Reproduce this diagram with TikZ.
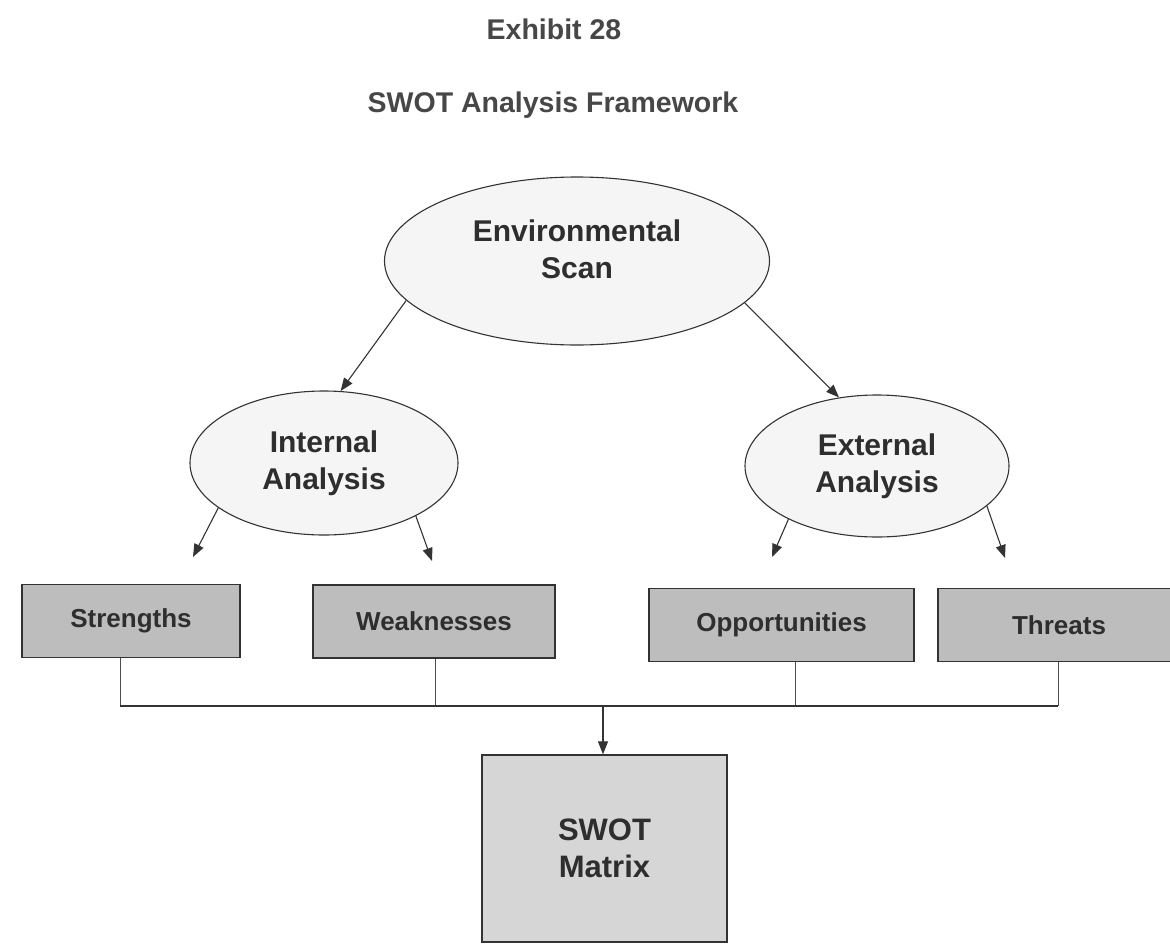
\documentclass[tikz,border=0pt]{standalone}
\usepackage{fontspec}
\setmainfont{Liberation Sans}
\usepackage{tikz}
\usetikzlibrary{arrows.meta,shapes.geometric}
\tikzset{
  swot/.style={x=1pt, y=-1pt},
  s title/.style={font=\bfseries\fontsize{28.5}{34}\selectfont, text=black!72, inner sep=0pt},
  s oval/.style={draw=black!80, ellipse, fill=black!4, line width=1.1pt, inner sep=0pt},
  s big/.style={align=center, inner sep=0pt, text=black!82, font=\bfseries\fontsize{30}{37}\selectfont},
  s box/.style={draw=black!80, fill=black!26, line width=1.3pt, align=center, inner sep=0pt,
                minimum height=73, text=black!82, font=\bfseries\fontsize{26}{31}\selectfont},
  s mat/.style={s box, fill=black!16, font=\bfseries\fontsize{31}{37}\selectfont},
  s arr/.style={-{Triangle[length=13pt, width=10pt]}, line width=1.1pt, black!80},
  s drop/.style={line width=1pt, black!70},
  s bus/.style={line width=1.5pt, black!80},
}

\begin{document}
\begin{tikzpicture}[swot]
\useasboundingbox (0,0) rectangle (1170,945);
% ---- titles ----
\node[s title] (ttl) at (554,29) {Exhibit 28};
\node[s title] (sub) at (553,105) {SWOT Analysis Framework};
% ---- scan ----
\node[s oval, minimum width=385, minimum height=168] (env) at (577,261) {};
\node[s big] (envtxt) at (577,249) {Environmental\\Scan};
\node[s oval, s big, minimum width=268, minimum height=144] (int) at (324,463) {Internal\\Analysis};
\node[s oval, s big, minimum width=264, minimum height=142] (ext) at (877,466) {External\\Analysis};
\draw[s arr] (env.193) -- (int.77);
\draw[s arr] (env.346) -- (ext.119);
% ---- SWOT boxes ----
\node[s box, minimum width=218] (str) at (131,621) {Strengths};
\node[s box, minimum width=242] (wea) at (434,621.5) {Weaknesses};
\node[s box, minimum width=265] (opp) at (781.5,625) {Opportunities};
\node[s box, minimum width=242] (thr) at (1059,625) {Threats};
\coordinate (tS) at (193,557); \coordinate (tW) at (432,561);
\coordinate (tO) at (772,557); \coordinate (tT) at (1005,558);
\draw[s arr] (int.203) -- (tS); \draw[s arr] (int.330) -- (tW);
\draw[s arr] (ext.211) -- (tO); \draw[s arr] (ext.340) -- (tT);
% ---- bus to matrix ----
\coordinate (bS) at (120,706); \coordinate (bW) at (435,706);
\coordinate (bO) at (795,706); \coordinate (bT) at (1058,706);
\coordinate (bM) at (603,706);
\node[s mat, minimum width=245, minimum height=187] (mat) at (604.5,848.5) {SWOT\\Matrix};
\draw[s drop] (bS |- str.south) -- (bS); \draw[s drop] (bW |- wea.south) -- (bW);
\draw[s drop] (bO |- opp.south) -- (bO); \draw[s drop] (bT |- thr.south) -- (bT);
\draw[s bus] (bS) -- (bT);
\draw[s arr] (bM) -- (bM |- mat.north);
\end{tikzpicture}
\end{document}
